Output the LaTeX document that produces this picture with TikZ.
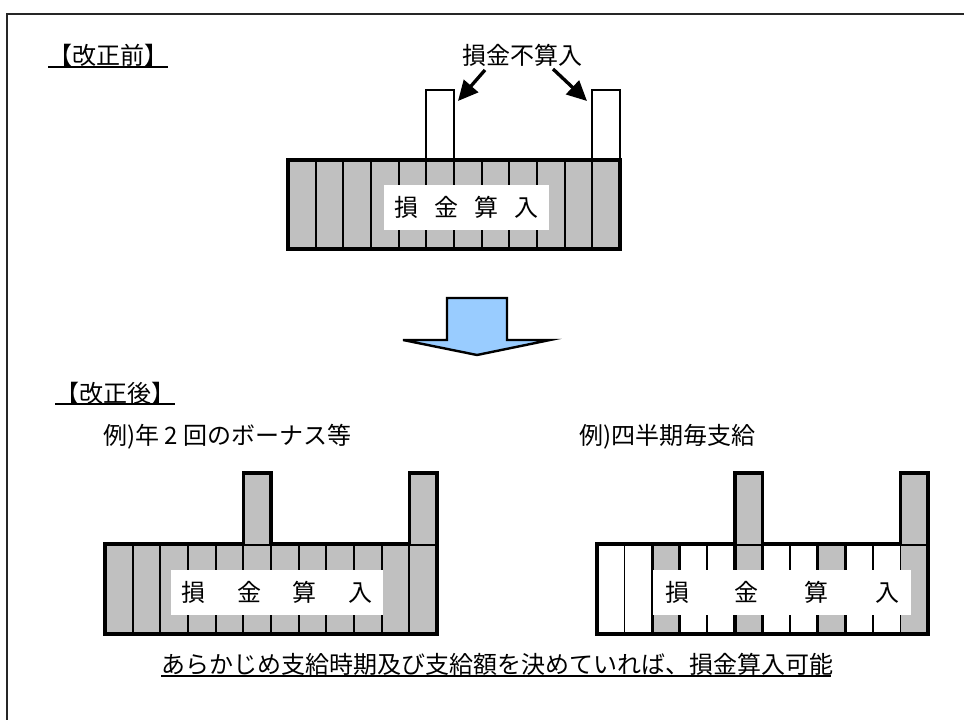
\documentclass[tikz,border=0pt]{standalone}
\usepackage{fontspec}
\setmainfont{Noto Sans CJK JP}
\usetikzlibrary{arrows.meta}
\definecolor{barg}{HTML}{C0C0C0}
\definecolor{arrowblue}{HTML}{99CCFF}
\begin{document}
\begin{tikzpicture}[x=0.75pt,y=-0.75pt,
  jp/.style={font=\fontsize{18}{18}\selectfont, inner sep=0pt},
  labbox/.style={jp, fill=white, minimum height=33.75pt},
  colline/.style={line width=1.3pt},
  outerln/.style={line width=2.4pt, line join=miter},
  thickcol/.style={line width=2.4pt},
  tallwhite/.style={line width=1.5pt},
  tallgray/.style={fill=barg, line width=2.6pt, line join=miter},
  callout/.style={line width=2.5pt, -{Triangle[length=15pt,width=14pt]}},
  uline/.style={line width=1.4pt},
  frame/.style={line width=1.5pt, black!85}]
\useasboundingbox (0,0) rectangle (964,720);

% outer frame (right and bottom edges lie outside the picture)
\draw[frame] (7,720) -- (7,14) -- (964,14);

% headings
\node[jp, anchor=west] (hbefore) at (48,55) {【改正前】};
\draw[uline] (48,67) -- (168,67);
\node[jp, anchor=west] (hafter) at (55,393) {【改正後】};
\draw[uline] (55,404) -- (175,404);

% ===== before =====
\fill[barg] (288,160) rectangle (620,249);
\foreach \i in {1,...,11} \draw[colline] ({288+\i*27.667},160) -- ({288+\i*27.667},249);
\draw[outerln] (288,160) rectangle (620,249);
\draw[tallwhite] (426.3,160) -- (426.3,90) -- (454,90) -- (454,160);
\draw[tallwhite] (592.3,160) -- (592.3,90) -- (620,90) -- (620,160);
\node[labbox, minimum width=123.75pt] (lab1) at (466.5,207.5) {損\hspace{12pt}金\hspace{12pt}算\hspace{12pt}入};

\node[jp] (nc) at (522,55) {損金不算入};
\coordinate (a1s) at (485,70);
\coordinate (a1e) at (458,101);
\coordinate (a2s) at (553,69);
\coordinate (a2e) at (587,101);
\draw[callout] (a1s) -- (a1e);
\draw[callout] (a2s) -- (a2e);

% ===== big down arrow =====
\filldraw[fill=arrowblue, line width=1.8pt, line join=miter]
  (447,298) -- (507,298) -- (507,340) -- (550,340) -- (477,355) -- (403,340) -- (447,340) -- cycle;

% ===== after, left =====
\node[jp, anchor=west] (exA) at (103,437) {例)年 2 回のボーナス等};
\fill[barg] (105,544) rectangle (437,634);
\foreach \i in {1,...,11} \draw[colline] ({105+\i*27.667},544) -- ({105+\i*27.667},634);
\draw[outerln] (105,544) rectangle (437,634);
\filldraw[tallgray] (243.3,544) -- (243.3,473) -- (271,473) -- (271,544);
\filldraw[tallgray] (409.3,544) -- (409.3,473) -- (437,473) -- (437,544);
\node[labbox, minimum width=159pt] (lab2) at (277,592.5) {損\hspace{23.6pt}金\hspace{23.6pt}算\hspace{23.6pt}入};

% ===== after, right =====
\node[jp, anchor=west] (exB) at (579,437) {例)四半期毎支給};
\foreach \i in {2,5,8,11} \fill[barg] ({597+\i*27.583},544) rectangle ({597+(\i+1)*27.583},634);
\foreach \i in {1,...,11} \draw[colline] ({597+\i*27.583},544) -- ({597+\i*27.583},634);
\foreach \i in {2,5,8} \draw[thickcol] ({597+\i*27.583},544) rectangle ({597+(\i+1)*27.583},634);
\draw[outerln] (597,544) rectangle (928,634);
\filldraw[tallgray] (734.9,544) -- (734.9,473) -- (762.5,473) -- (762.5,544);
\filldraw[tallgray] (900.4,544) -- (900.4,473) -- (928,473) -- (928,544);
\node[labbox, minimum width=193.5pt] (lab3) at (782,592.5) {損\hspace{34.5pt}金\hspace{34.5pt}算\hspace{34.5pt}入};

% ===== conclusion =====
\node[jp, anchor=west] (concl) at (161,664) {あらかじめ支給時期及び支給額を決めていれば、損金算入可能};
\draw[uline] (161,676) -- (831,676);
\end{tikzpicture}
\end{document}
